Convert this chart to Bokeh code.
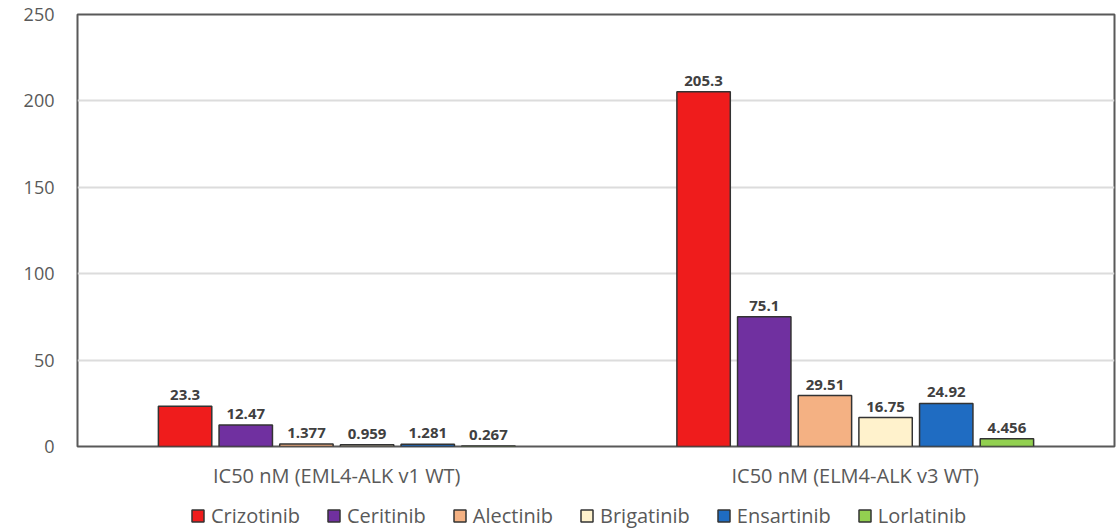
from bokeh.plotting import figure
from bokeh.layouts import column
from bokeh.models import ColumnDataSource, FactorRange, Range1d, Legend, LegendItem, FixedTicker
from bokeh.transform import dodge
from bokeh.core.properties import value
from bokeh.embed import file_html
from bokeh.resources import INLINE

# --- data -------------------------------------------------------------
groups = ["IC50 nM (EML4-ALK v1 WT)", "IC50 nM (ELM4-ALK v3 WT)"]
drugs = ["Crizotinib", "Ceritinib", "Alectinib", "Brigatinib", "Ensartinib", "Lorlatinib"]
crizotinib = [23.3, 205.3]
ceritinib = [12.47, 75.1]
alectinib = [1.377, 29.51]
brigatinib = [0.959, 16.75]
ensartinib = [1.281, 24.92]
lorlatinib = [0.267, 4.456]
series = [crizotinib, ceritinib, alectinib, brigatinib, ensartinib, lorlatinib]
y_ticks = [0, 50, 100, 150, 200, 250]

colors = ["#ef1c1c", "#7030a0", "#f4b183", "#fff2cc", "#1f6cc2", "#92d050"]

FONT = "Open Sans"
BAR_LINE = "#333333"

# --- main chart ---------------------------------------------------------
p = figure(
    width=1119, height=495,
    x_range=FactorRange(*groups, range_padding=0),
    y_range=Range1d(0, 250),
    output_backend="svg", toolbar_location=None,
    min_border_left=77, min_border_right=5, min_border_top=14, min_border_bottom=49,
)
p.background_fill_color = "white"
p.border_fill_color = "white"
p.outline_line_color = "#595959"
p.outline_line_width = 2

p.yaxis.ticker = FixedTicker(ticks=y_ticks)
p.yaxis.axis_line_color = None
p.yaxis.major_tick_line_color = None
p.yaxis.minor_tick_line_color = None
p.yaxis.major_label_standoff = 17
p.yaxis.major_label_text_font = FONT
p.yaxis.major_label_text_font_size = "18px"
p.yaxis.major_label_text_color = "#595959"

p.xaxis.axis_line_color = None
p.xaxis.major_tick_line_color = None
p.xaxis.minor_tick_line_color = None
p.xaxis.major_tick_out = 0
p.xaxis.major_label_standoff = 15
p.xaxis.major_label_text_font = FONT
p.xaxis.major_label_text_font_size = "20px"
p.xaxis.major_label_text_color = "#595959"

p.xgrid.grid_line_color = None
p.ygrid.grid_line_color = "#dcdcdc"
p.ygrid.grid_line_width = 2

pitch = 0.117
bar_w = 0.103

for i, (vals, col) in enumerate(zip(series, colors)):
    off = (i - 2.5) * pitch
    src = ColumnDataSource(dict(group=groups, value=vals, label=[str(v) for v in vals]))
    p.vbar(x=dodge("group", off, range=p.x_range), top="value", bottom=0,
           width=bar_w, source=src, fill_color=col,
           line_color=BAR_LINE, line_width=1.5)
    p.text(x=dodge("group", off, range=p.x_range), y="value", text="label", source=src,
           text_align="center", text_baseline="bottom", y_offset=-6,
           text_font=value(FONT), text_font_size="15px", text_font_style="bold",
           text_color="#404040")

# --- legend strip ---------------------------------------------------------
# The strip's frame lines up with the chart's frame in the column layout,
# so the legend location is measured from x = 77.
lg = figure(
    width=1119, height=34, x_range=Range1d(0, 1), y_range=Range1d(0, 1),
    output_backend="svg", toolbar_location=None,
    min_border_left=77, min_border_right=5, min_border_top=0, min_border_bottom=0,
)
lg.axis.visible = False
lg.grid.visible = False
lg.outline_line_color = None

items = []
for name, col in zip(drugs, colors):
    # key-only renderer: hidden in the strip, still drawn as a legend swatch
    r = lg.vbar(x=[0], top=[0], width=0.1, fill_color=col, line_color=BAR_LINE,
                line_width=1.5, visible=False)
    items.append(LegendItem(label=name, renderers=[r]))

legend = Legend(
    items=items, orientation="horizontal", location=(113, 0),
    glyph_width=15, glyph_height=15, label_standoff=6, spacing=26,
    label_height=15,
    label_text_font=FONT, label_text_font_size="20px", label_text_color="#595959",
    padding=0, margin=0, border_line_color=None, background_fill_alpha=0,
)
lg.add_layout(legend, "center")

layout = column(p, lg, spacing=0)
open("out.html", "w").write(file_html(layout, INLINE))
